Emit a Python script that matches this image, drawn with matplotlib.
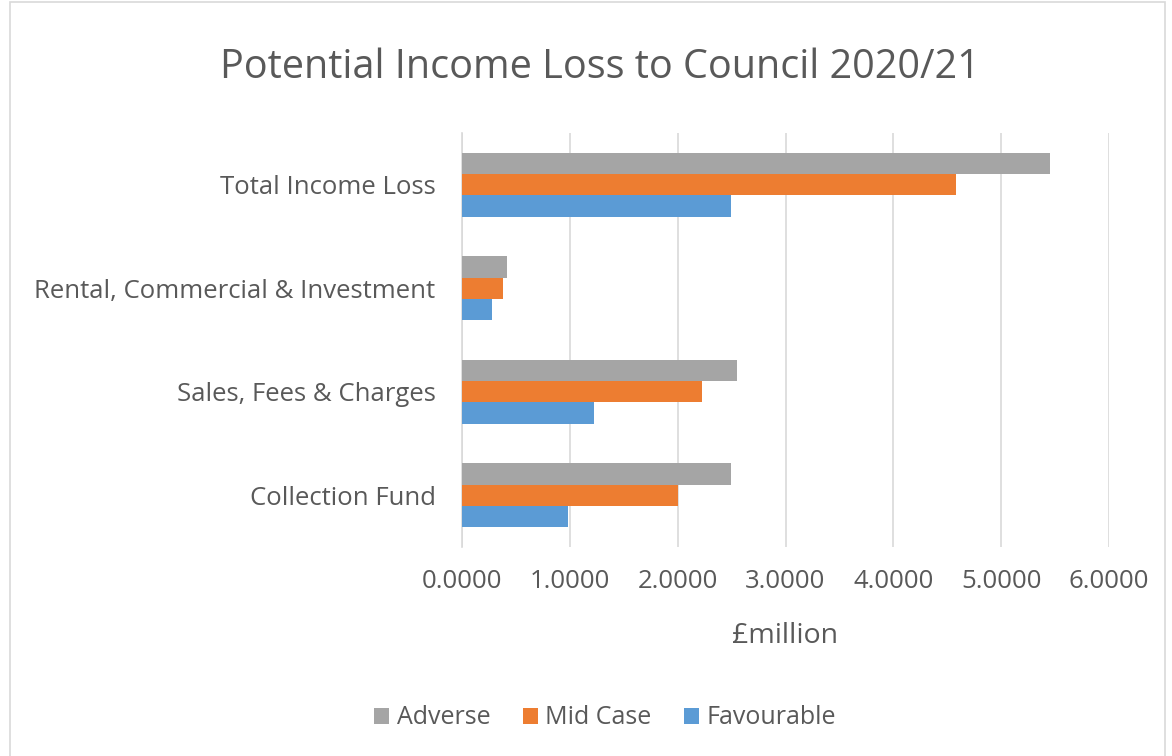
import numpy as np
import matplotlib.pyplot as plt
from matplotlib.patches import Rectangle

categories = ["Collection Fund", "Sales, Fees & Charges", "Rental, Commercial & Investment", "Total Income Loss"]
adverse = [2.49, 2.55, 0.42, 5.45]
mid_case = [2.00, 2.23, 0.38, 4.58]
favourable = [0.98, 1.22, 0.28, 2.49]

plt.rcParams['font.family'] = ['Open Sans', 'DejaVu Sans']
text_col = "#595959"

fig = plt.figure(figsize=(11.72, 7.56), dpi=100)
ax = fig.add_axes([462 / 1172, 1 - 547 / 756, (1109 - 462) / 1172, (547 - 133) / 756])

y = np.arange(len(categories))
h = 0.205
ax.barh(y - h, favourable, h, color="#5b9bd5", label="Favourable", zorder=3)
ax.barh(y, mid_case, h, color="#ed7d31", label="Mid Case", zorder=3)
ax.barh(y + h, adverse, h, color="#a5a5a5", label="Adverse", zorder=3)

ax.set_xlim(0, 6)
ax.set_ylim(-0.5, 3.5)
ax.set_xticks(np.arange(0, 7, 1))
ax.set_xticklabels([f"{v:.4f}" for v in np.arange(0, 7, 1)], fontsize=18.5, color=text_col)
ax.set_yticks(y)
ax.set_yticklabels(categories, fontsize=18.5, color=text_col)
ax.tick_params(length=0, pad=16, axis="x")
ax.tick_params(length=0, pad=19, axis="y")
ax.grid(axis="x", color="#d9d9d9", linewidth=1.2, zorder=0)
for s in ["top", "right", "bottom"]:
    ax.spines[s].set_visible(False)
ax.spines["left"].set_color("#d9d9d9")
ax.spines["left"].set_linewidth(1.2)
ax.set_xlabel("£million", fontsize=20.5, color=text_col, labelpad=20)

fig.text(600 / 1172, 1 - 68 / 756, "Potential Income Loss to Council 2020/21", fontsize=28.5,
         color=text_col, ha="center", va="center")

handles, labels = ax.get_legend_handles_labels()
fig.legend(handles[::-1], labels[::-1], loc="center", bbox_to_anchor=(605 / 1172, 1 - 718 / 756),
           ncol=3, frameon=False, fontsize=18, handlelength=0.6, handleheight=0.6,
           columnspacing=1.3, handletextpad=0.3, labelcolor=text_col)

fig.add_artist(Rectangle((10 / 1172, -0.01), 1155 / 1172, 1 - 2 / 756 + 0.01, transform=fig.transFigure,
                         fill=False, edgecolor="#d9d9d9", linewidth=1.2))

fig.savefig("out.png", dpi=100)
